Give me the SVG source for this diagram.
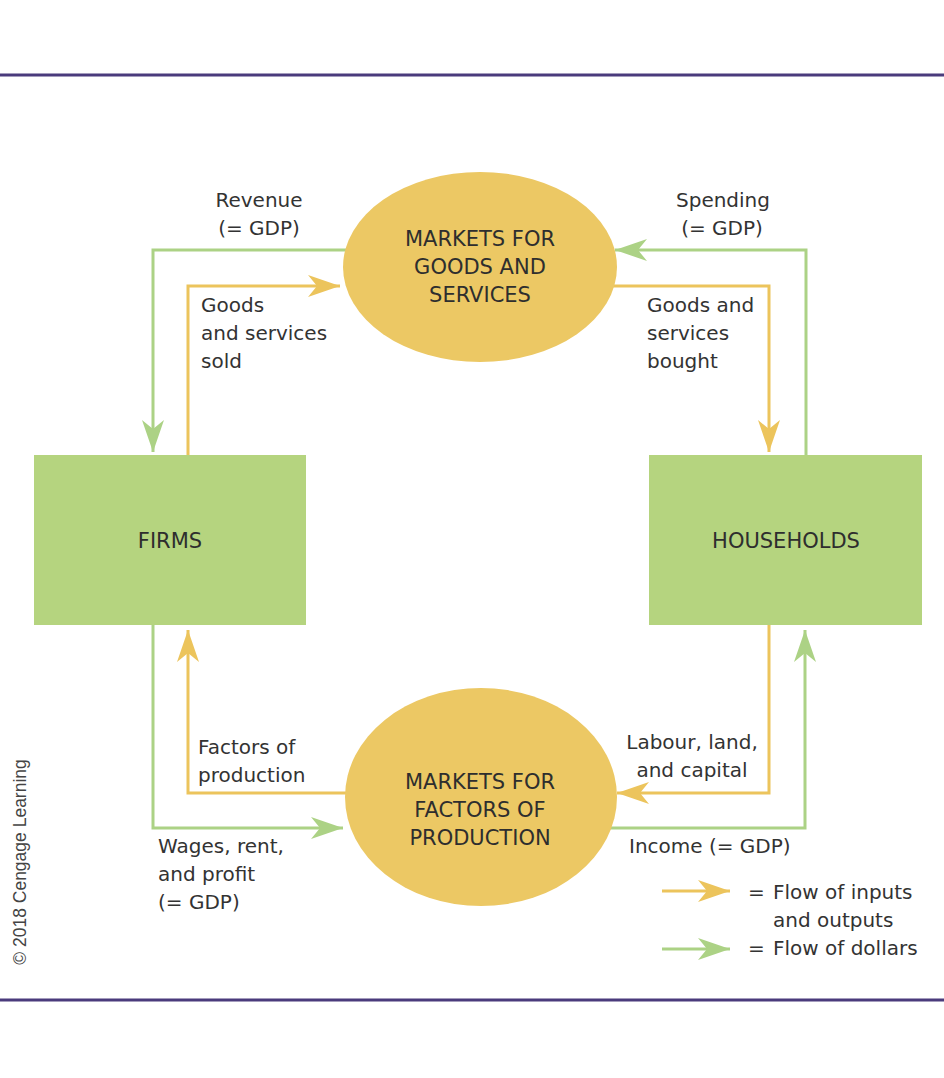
<svg xmlns="http://www.w3.org/2000/svg" width="944" height="1078" viewBox="0 0 944 1078">
<style>
.lbl{font-family:"DejaVu Sans",sans-serif;font-size:20px;fill:#333333}
.nd{font-family:"DejaVu Sans",sans-serif;font-size:21px;fill:#2e2e2e;text-anchor:middle}
.g{fill:none;stroke:#acd285;stroke-width:3}
.y{fill:none;stroke:#ecc45c;stroke-width:3}
.rect{fill:#b5d47f}
.ell{fill:#ecc864}
.rule{stroke:#4a3b7c;stroke-width:3}
</style>
<defs>
<marker id="ag" markerUnits="userSpaceOnUse" markerWidth="34" markerHeight="24" refX="32" refY="11" orient="auto" viewBox="0 0 34 24">
<path d="M32,11 L0,0 L9,11 L0,22 Z" fill="#acd285"/>
</marker>
<marker id="ay" markerUnits="userSpaceOnUse" markerWidth="34" markerHeight="24" refX="32" refY="11" orient="auto" viewBox="0 0 34 24">
<path d="M32,11 L0,0 L9,11 L0,22 Z" fill="#ecc45c"/>
</marker>
</defs>
<rect width="944" height="1078" fill="#ffffff"/>
<line class="rule" x1="0" y1="75" x2="944" y2="75"/>
<line class="rule" x1="0" y1="1000" x2="944" y2="1000"/>

<g id="connectors">
<polyline class="g" points="350,250 153,250 153,452" marker-end="url(#ag)"/>
<polyline class="y" points="188,455 188,286 340,286" marker-end="url(#ay)"/>
<polyline class="g" points="806,455 806,250 615,250" marker-end="url(#ag)"/>
<polyline class="y" points="610,286 769,286 769,452" marker-end="url(#ay)"/>
<polyline class="g" points="153,625 153,828 343,828" marker-end="url(#ag)"/>
<polyline class="y" points="352,793 188,793 188,630" marker-end="url(#ay)"/>
<polyline class="y" points="769,625 769,793 617,793" marker-end="url(#ay)"/>
<polyline class="g" points="610,828 805,828 805,630" marker-end="url(#ag)"/>
</g>

<g id="goods-market">
<ellipse class="ell" cx="480" cy="267" rx="137" ry="95"/>
<text class="nd" x="480" y="246">MARKETS FOR</text>
<text class="nd" x="480" y="274">GOODS AND</text>
<text class="nd" x="480" y="302">SERVICES</text>
</g>
<g id="factor-market">
<ellipse class="ell" cx="481" cy="797" rx="136" ry="109"/>
<text class="nd" x="480" y="789">MARKETS FOR</text>
<text class="nd" x="480" y="817">FACTORS OF</text>
<text class="nd" x="480" y="845">PRODUCTION</text>
</g>
<g id="firms">
<rect class="rect" x="34" y="455" width="272" height="170"/>
<text class="nd" x="170" y="548">FIRMS</text>
</g>
<g id="households">
<rect class="rect" x="649" y="455" width="273" height="170"/>
<text class="nd" x="786" y="548">HOUSEHOLDS</text>
</g>

<g id="labels">
<text class="lbl" x="259" y="207" text-anchor="middle">Revenue</text>
<text class="lbl" x="259" y="235" text-anchor="middle">(= GDP)</text>
<text class="lbl" x="201" y="312">Goods</text>
<text class="lbl" x="201" y="340">and services</text>
<text class="lbl" x="201" y="368">sold</text>
<text class="lbl" x="723" y="207" text-anchor="middle">Spending</text>
<text class="lbl" x="722" y="235" text-anchor="middle">(= GDP)</text>
<text class="lbl" x="647" y="312">Goods and</text>
<text class="lbl" x="647" y="340">services</text>
<text class="lbl" x="647" y="368">bought</text>
<text class="lbl" x="198" y="754">Factors of</text>
<text class="lbl" x="198" y="782">production</text>
<text class="lbl" x="158" y="853">Wages, rent,</text>
<text class="lbl" x="158" y="881">and profit</text>
<text class="lbl" x="158" y="909">(= GDP)</text>
<text class="lbl" x="692" y="749" text-anchor="middle">Labour, land,</text>
<text class="lbl" x="692" y="777" text-anchor="middle">and capital</text>
<text class="lbl" x="629" y="853">Income (= GDP)</text>
</g>

<g id="legend">
<line class="y" x1="662" y1="891" x2="730" y2="891" marker-end="url(#ay)"/>
<line class="g" x1="662" y1="949" x2="730" y2="949" marker-end="url(#ag)"/>
<text class="lbl" x="748" y="899">=</text>
<text class="lbl" x="773" y="899">Flow of inputs</text>
<text class="lbl" x="773" y="927">and outputs</text>
<text class="lbl" x="748" y="955">=</text>
<text class="lbl" x="773" y="955">Flow of dollars</text>
</g>

<text x="0" y="0" transform="translate(26,862) rotate(-90)" text-anchor="middle" font-family="Liberation Sans, sans-serif" font-size="17.5" fill="#444444">© 2018 Cengage Learning</text>
</svg>
